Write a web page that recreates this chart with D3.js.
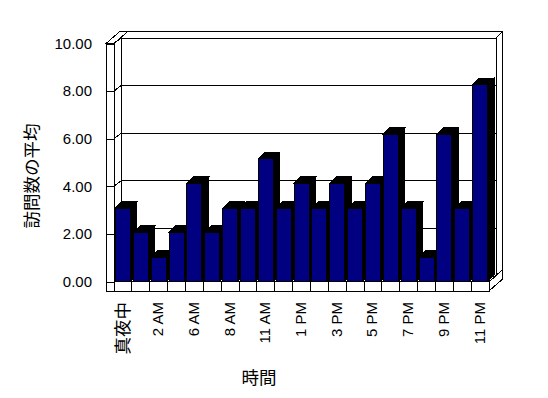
<!DOCTYPE html>
<html><head><meta charset="utf-8">
<script src="https://cdn.jsdelivr.net/npm/d3@7"></script>
<style>html,body{margin:0;padding:0;background:#fff;} svg{display:block}</style>
</head><body><svg id="c" width="548" height="398"></svg>
<script>
// ---- data ----
const categories = ["真夜中","1 AM","2 AM","5 AM","6 AM","7 AM","8 AM","10 AM","11 AM","正午","1 PM","2 PM","3 PM","4 PM","5 PM","6 PM","7 PM","8 PM","9 PM","10 PM","11 PM"];
const visits = [3.08,2.06,1.02,2.06,4.12,2.06,3.08,3.08,5.16,3.08,4.12,3.08,4.12,3.08,4.12,6.18,3.08,1.02,6.18,3.08,8.26];
const yTickValues = [0,2,4,6,8,10];
const yTitle = "訪問数の平均";
const xTitle = "時間";

// ---- layout ----
const svg = d3.select("#c");
const g = svg.append("g").attr("shape-rendering","crispEdges");
const frontLeft = 114, frontRight = 489, outerLeft = 106, floorBottom = 291;
const x = d3.scaleBand().domain(categories).range([frontLeft, frontRight]).paddingInner(0.16).paddingOuter(0.08);
const y = d3.scaleLinear().domain([0,10]).range([281.5, 43.5]);
const D = [7,-5.5];     // depth to back wall inner face
const T = [6.5,-6.3];   // back wall thickness
const BD = [6.5,-6.5];  // bar depth
const y0 = y(0), yTop = y(10);
const bx0 = frontLeft + D[0], bx1 = frontRight + D[0];
const by0 = y0 + D[1], byTop = yTop + D[1];

function poly(pts, fill){
  return g.append("path").attr("d","M"+pts.map(p=>p.join(",")).join("L")+"Z")
    .attr("fill",fill).attr("stroke","#000").attr("stroke-width",1);
}
function line(x1,y1,x2,y2){
  g.append("line").attr("x1",x1).attr("y1",y1).attr("x2",x2).attr("y2",y2)
    .attr("stroke","#000").attr("stroke-width",1);
}

// back wall slab: top and right faces
poly([[bx0,byTop],[bx1,byTop],[bx1+T[0],byTop+T[1]],[bx0+T[0],byTop+T[1]]],"#fff");
poly([[bx1,byTop],[bx1+T[0],byTop+T[1]],[bx1+T[0],by0+T[1]],[bx1,by0]],"#fff");
// back wall inner face
poly([[bx0,byTop],[bx1,byTop],[bx1,by0],[bx0,by0]],"#fff");
yTickValues.forEach(v=>line(bx0, y(v)+D[1], bx1, y(v)+D[1]));
// floor slab right face
const TD = [D[0]+T[0], D[1]+T[1]];
poly([[frontRight,y0],[frontRight,floorBottom],[frontRight+TD[0],floorBottom+TD[1]],[frontRight+TD[0],y0+TD[1]]],"#fff");
// floor top face
poly([[frontLeft,y0],[frontRight,y0],[bx1,by0],[bx0,by0]],"#fff");
// left wall inner face
poly([[frontLeft,yTop],[bx0,byTop],[bx0,by0],[frontLeft,y0]],"#fff");
yTickValues.forEach(v=>line(frontLeft, y(v), bx0, y(v)+D[1]));
// left wall slab top face
poly([[outerLeft,yTop],[frontLeft,yTop],[frontLeft+TD[0],yTop+TD[1]],[outerLeft+TD[0],yTop+TD[1]]],"#fff");

// bars
const bw = x.bandwidth();
categories.forEach((c,i)=>{
  const bx = x(c), byv = y(visits[i]);
  poly([[bx,byv],[bx+bw,byv],[bx+bw+BD[0],byv+BD[1]],[bx+BD[0],byv+BD[1]]],"#000");
  poly([[bx+bw,byv],[bx+bw+BD[0],byv+BD[1]],[bx+bw+BD[0],y0+BD[1]],[bx+bw,y0]],"#000");
  poly([[bx,byv],[bx+bw,byv],[bx+bw,y0],[bx,y0]],"#000080");
});

// left wall slab front face
poly([[outerLeft,yTop],[frontLeft,yTop],[frontLeft,floorBottom],[outerLeft,floorBottom]],"#fff");
// floor front face
poly([[frontLeft,y0],[frontRight,y0],[frontRight,floorBottom],[frontLeft,floorBottom]],"#fff");
categories.forEach((c,i)=>{ if(i>0){ const bxx = x(c) - x.step()*x.paddingInner()/2; line(bxx,y0,bxx,floorBottom);} });

// y axis (ticks across left wall front face + labels)
const yAxis = d3.axisLeft(y).tickValues(yTickValues).tickFormat(d3.format(".2f")).tickSize(frontLeft-outerLeft).tickSizeOuter(0).tickPadding(14);
const ya = svg.append("g").attr("transform",`translate(${frontLeft},0)`).call(yAxis);
ya.select(".domain").remove();
ya.selectAll("line").attr("stroke","#000").attr("shape-rendering","crispEdges");
ya.selectAll("text").attr("font-family","'Liberation Sans', Arial, sans-serif").attr("font-size",15).attr("fill","#000");

// x labels
categories.forEach((c,i)=>{
  if(i%2!==0) return;
  const cx = x(c) + bw/2 - 1;
  const cjk = /[^\x00-\x7f]/.test(c);
  svg.append("text").attr("transform",`translate(${cx},302) rotate(-90)`)
    .attr("text-anchor","end").attr("dominant-baseline","central")
    .attr("font-family", cjk ? "'Noto Sans CJK JP', sans-serif" : "'Liberation Sans', Arial, sans-serif")
    .attr("font-size", cjk ? 17.5 : 15).attr("fill","#000").text(c);
});

// titles
svg.append("text").attr("transform","translate(30,176) rotate(-90)").attr("text-anchor","middle")
  .attr("dominant-baseline","central").attr("font-family","'Noto Sans CJK JP', sans-serif").attr("font-size",17.5).text(yTitle);
svg.append("text").attr("x",259).attr("y",376).attr("text-anchor","middle")
  .attr("dominant-baseline","central").attr("font-family","'Noto Sans CJK JP', sans-serif").attr("font-size",17.5).text(xTitle);
</script></body></html>
